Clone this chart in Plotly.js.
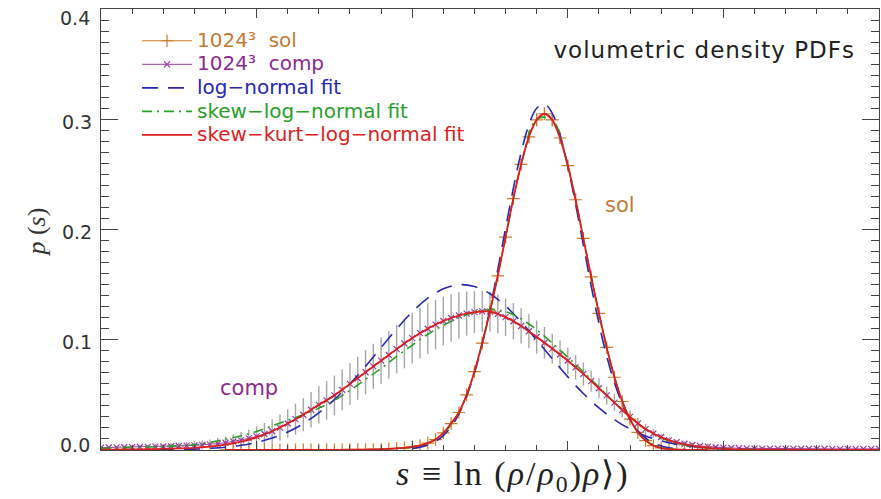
<!DOCTYPE html>
<html>
<head>
<meta charset="utf-8">
<script src="https://cdn.plot.ly/plotly-3.0.1.min.js"></script>
<style>
  html, body { margin: 0; padding: 0; background: #ffffff; }
  #chart { width: 881px; height: 499px; }
  /* legend rows are packed tightly while the labels keep a larger glyph size */
  .legendtext { font-size: 20px !important; }
  #chart g.legend g.scrollbox { clip-path: none !important; }
  /* wide lettering for the panel caption and the s-axis label */
  #chart g.annotation[data-index="2"] text { letter-spacing: 1px; }
  #chart g.annotation[data-index="5"] text { letter-spacing: 2px; }
</style>
</head>
<body>
<div id="chart"></div>
<script>
// Volumetric density PDFs p(s), s = ln(rho/rho0), for solenoidal and compressive forcing (1024^3).

// ---- measured PDFs (bins of 0.25 in s) ----
const solStart = -11, solStep = 0.25;
const solP = [
  0.0001, 0.0001, 0.0001, 0.0001, 0.0001, 0.0001, 0.0001, 0.0001, 0.0001, 0.0001,
  0.0002, 0.0002, 0.0002, 0.0002, 0.0002, 0.0002, 0.0003, 0.0003, 0.0004, 0.0005,
  0.0007, 0.001, 0.0014, 0.002, 0.0028, 0.004, 0.0062, 0.0095, 0.0155, 0.024,
  0.034, 0.050, 0.071, 0.097, 0.126, 0.158, 0.193, 0.228, 0.259, 0.284,
  0.2995, 0.305, 0.2995, 0.283, 0.258, 0.227, 0.192, 0.157, 0.124, 0.093,
  0.066, 0.044, 0.028, 0.016, 0.0085, 0.004, 0.0018, 0.0008, 0.0004, 0.0002,
  0.0001, 0.0001, 0.0001
];
const solErr = [
  0, 0, 0, 0, 0, 0, 0, 0, 0, 0,
  0, 0, 0, 0, 0, 0, 0, 0, 0, 0,
  0.0005, 0.0005, 0.001, 0.001, 0.001, 0.0015, 0.0015, 0.002, 0.002, 0.0025,
  0.003, 0.003, 0.0035, 0.004, 0.004, 0.0045, 0.005, 0.005, 0.005, 0.0055,
  0.006, 0.006, 0.006, 0.0055, 0.005, 0.005, 0.0045, 0.004, 0.004, 0.0035,
  0.003, 0.0025, 0.002, 0.0015, 0.001, 0.0005, 0, 0, 0, 0,
  0, 0, 0
];

const compStart = -15, compStep = 0.25;
const compP = [
  0.0022, 0.0023, 0.0024, 0.0025, 0.0026, 0.0027, 0.0029, 0.003,
  0.0032, 0.0034, 0.0036, 0.0039, 0.0042, 0.0046, 0.0051, 0.0058,
  0.0066, 0.0077, 0.009, 0.0105, 0.0123, 0.0145, 0.017, 0.0203,
  0.024, 0.028, 0.032, 0.0365, 0.041, 0.045, 0.0495, 0.0545,
  0.060, 0.065, 0.0705, 0.0758, 0.081, 0.0862, 0.0915, 0.0966,
  0.1015, 0.106, 0.110, 0.1137, 0.117, 0.1197, 0.122, 0.1237,
  0.125, 0.1258, 0.1255, 0.1235, 0.1205, 0.1168, 0.1125, 0.1077,
  0.1025, 0.0973, 0.092, 0.0866, 0.081, 0.075, 0.069, 0.0625,
  0.056, 0.0495, 0.043, 0.0363, 0.030, 0.024, 0.019, 0.015,
  0.0118, 0.009, 0.0072, 0.0057, 0.0045, 0.0036, 0.003, 0.0025,
  0.0021, 0.0018, 0.0016, 0.0015, 0.0014, 0.0013, 0.0013, 0.0012,
  0.0012, 0.0012, 0.0011, 0.0011, 0.0011, 0.0011, 0.001, 0.001,
  0.001, 0.001, 0.001, 0.001, 0.001
];
const compErr = [
  0.001, 0.001, 0.0012, 0.0013, 0.0015, 0.0017, 0.002, 0.0022,
  0.0025, 0.0028, 0.003, 0.0033, 0.0037, 0.004, 0.0045, 0.005,
  0.0057, 0.0065, 0.0073, 0.0082, 0.009, 0.01, 0.011, 0.012,
  0.013, 0.014, 0.015, 0.016, 0.017, 0.0175, 0.018, 0.0185,
  0.019, 0.0195, 0.02, 0.0205, 0.021, 0.0215, 0.022, 0.0225,
  0.023, 0.023, 0.023, 0.0225, 0.022, 0.0215, 0.021, 0.020,
  0.019, 0.0185, 0.018, 0.0175, 0.017, 0.0165, 0.016, 0.0155,
  0.015, 0.0143, 0.0135, 0.0128, 0.012, 0.0112, 0.0105, 0.0097,
  0.009, 0.0082, 0.0075, 0.0068, 0.006, 0.0052, 0.0045, 0.0038,
  0.003, 0.0026, 0.0022, 0.002, 0.0018, 0.0016, 0.0014, 0.0013,
  0.0012, 0.0011, 0.001, 0.001, 0.0009, 0.0009, 0.0008, 0.0008,
  0.0008, 0.0008, 0.0008, 0.0008, 0.0008, 0.0008, 0.0008, 0.0008,
  0.0008, 0.0008, 0.0008, 0.0008, 0.0008
];

// ---- fits ----
// log-normal, solenoidal (step 0.25 from s = -5)
const solLogNormalStart = -5, solLogNormalStep = 0.25;
const solLogNormal = [
  0.0013, 0.0025, 0.0045, 0.0078, 0.0131, 0.0211, 0.0328, 0.0488, 0.070, 0.0966,
  0.128, 0.1636, 0.201, 0.2373, 0.2697, 0.2949, 0.310, 0.3138, 0.3054, 0.2859,
  0.2575, 0.223, 0.186, 0.149, 0.115, 0.0853, 0.061, 0.0419, 0.0277, 0.0175,
  0.0107, 0.0063, 0.0036, 0.0019, 0.001, 0.0005, 0.0002
];
// log-normal, compressive (step 0.5 from s = -14)
const compLogNormalStart = -14, compLogNormalStep = 0.5;
const compLogNormal = [
  0.0001, 0.0001, 0.0002, 0.0004, 0.0008, 0.0015, 0.0025, 0.0043, 0.0069, 0.0108,
  0.0163, 0.0239, 0.0337, 0.0457, 0.060, 0.076, 0.093, 0.1098, 0.1252, 0.1377,
  0.1462, 0.1499, 0.1483, 0.1417, 0.1306, 0.1162, 0.0998, 0.0828, 0.0663, 0.0512,
  0.0382, 0.0275, 0.0191, 0.0128, 0.0083, 0.0052, 0.0031, 0.0018, 0.001, 0.0006,
  0.0003
];
// skew-log-normal, solenoidal (step 0.5 from s = -6)
const solSkewStart = -6, solSkewStep = 0.5;
const solSkew = [
  0.0005, 0.0012, 0.0027, 0.0063, 0.015, 0.034, 0.071, 0.126, 0.193, 0.259,
  0.300, 0.2995, 0.258, 0.192, 0.124, 0.066, 0.028, 0.009, 0.0022, 0.0005,
  0.0001
];
// skew-log-normal, compressive (step 0.5 from s = -15)
const compSkewStart = -15, compSkewStep = 0.5;
const compSkew = [
  0.0015, 0.002, 0.0023, 0.0027, 0.0032, 0.0038, 0.0048, 0.0068, 0.0098, 0.013,
  0.0168, 0.022, 0.027, 0.032, 0.038, 0.045, 0.054, 0.064, 0.074, 0.085,
  0.095, 0.105, 0.113, 0.120, 0.125, 0.1275, 0.1255, 0.119, 0.109, 0.097,
  0.084, 0.071, 0.057, 0.043, 0.030, 0.019, 0.011, 0.0062, 0.0033, 0.0017,
  0.0009, 0.0005, 0.0003, 0.0002, 0.0001, 0, 0, 0, 0, 0,
  0
];
// skew-kurt-log-normal, compressive (step 0.5 from s = -15); the solenoidal one follows solP
const compSkewKurtStart = -15, compSkewKurtStep = 0.5;
const compSkewKurt = [
  0.0003, 0.0004, 0.0005, 0.0007, 0.001, 0.0014, 0.002, 0.003, 0.0048, 0.0075,
  0.0115, 0.017, 0.024, 0.032, 0.041, 0.0495, 0.060, 0.0705, 0.081, 0.0915,
  0.1015, 0.110, 0.117, 0.122, 0.125, 0.1255, 0.1205, 0.1125, 0.1025, 0.092,
  0.081, 0.069, 0.056, 0.043, 0.030, 0.019, 0.0115, 0.0068, 0.0038, 0.002,
  0.0011, 0.0006, 0.0003, 0.0002, 0.0001, 0.0001, 0, 0, 0, 0,
  0
];
const solSkewKurt = solP;

// ---- axis ticks ----
const yTickVals = [0.1, 0.2, 0.3];
const yTickText = ['0.1', '0.2', '0.3'];

function grid(start, step, n) {
  const out = [];
  for (let i = 0; i < n; i++) out.push(+(start + i * step).toFixed(3));
  return out;
}

const C_SOL = '#d07a28', C_SOL_TXT = '#c47a35';
const C_COMP = '#9a3c9a', C_COMP_TXT = '#8e2a8e';
const C_LN = '#2828b0', C_SKEW = '#2aa02a', C_SK = '#dc1e1e';
const ERR = 'rgba(150,150,150,0.85)';

const traces = [
  {
    x: grid(compStart, compStep, compP.length), y: compP,
    error_y: { type: 'data', array: compErr, color: ERR, thickness: 1.4, width: 0 },
    mode: 'lines+markers', name: '<span style="color:' + C_COMP_TXT + '">1024³\u00a0\u00a0comp</span>',
    line: { color: C_COMP, width: 1 },
    marker: { symbol: 'x-thin', size: 6, line: { color: C_COMP, width: 1.2 } },
    legendrank: 2
  },
  {
    x: grid(solStart, solStep, solP.length), y: solP,
    error_y: { type: 'data', array: solErr, color: ERR, thickness: 1.4, width: 0 },
    mode: 'lines+markers', name: '<span style="color:' + C_SOL_TXT + '">1024³\u00a0\u00a0sol</span>',
    line: { color: C_SOL, width: 1 },
    marker: { symbol: 'cross-thin', size: 9, line: { color: C_SOL, width: 1.2 } },
    legendrank: 1
  },
  {
    x: grid(solLogNormalStart, solLogNormalStep, solLogNormal.length), y: solLogNormal,
    mode: 'lines', legendgroup: 'ln', showlegend: false, name: 'ln-sol',
    line: { color: C_LN, width: 1.6, dash: '16px,10px', shape: 'spline' }
  },
  {
    x: grid(compLogNormalStart, compLogNormalStep, compLogNormal.length), y: compLogNormal,
    mode: 'lines', legendgroup: 'ln', legendrank: 3,
    name: '<span style="color:' + C_LN + '">log−normal fit</span>',
    line: { color: C_LN, width: 1.6, dash: '16px,10px', shape: 'spline' }
  },
  {
    x: grid(solSkewStart, solSkewStep, solSkew.length), y: solSkew,
    mode: 'lines', legendgroup: 'skew', showlegend: false, name: 'skew-sol',
    line: { color: C_SKEW, width: 1.6, dash: '10px,5px,2px,5px', shape: 'spline' }
  },
  {
    x: grid(compSkewStart, compSkewStep, compSkew.length), y: compSkew,
    mode: 'lines', legendgroup: 'skew', legendrank: 4,
    name: '<span style="color:' + C_SKEW + '">skew−log−normal fit</span>',
    line: { color: C_SKEW, width: 1.6, dash: '10px,5px,2px,5px', shape: 'spline' }
  },
  {
    x: grid(solStart, solStep, solSkewKurt.length), y: solSkewKurt,
    mode: 'lines', legendgroup: 'sk', showlegend: false, name: 'sk-sol',
    line: { color: C_SK, width: 1.8, shape: 'spline' }
  },
  {
    x: grid(compSkewKurtStart, compSkewKurtStep, compSkewKurt.length), y: compSkewKurt,
    mode: 'lines', legendgroup: 'sk', legendrank: 5,
    name: '<span style="color:' + C_SK + '">skew−kurt−log−normal fit</span>',
    line: { color: C_SK, width: 1.8, shape: 'spline' }
  }
];

const AX = '#444444';
const layout = {
  width: 881, height: 499,
  margin: { l: 101, r: 2, t: 9, b: 49, pad: 0 },
  paper_bgcolor: '#ffffff', plot_bgcolor: '#ffffff',
  font: { family: 'DejaVu Sans', size: 19, color: '#333333' },
  showlegend: true,
  legend: {
    x: 0.0463, y: 0.966, xanchor: 'left', yanchor: 'top',
    bgcolor: 'rgba(0,0,0,0)', borderwidth: 0,
    itemwidth: 50, tracegroupgap: 0,
    font: { family: 'DejaVu Sans', size: 15.8 }
  },
  xaxis: {
    range: [-15, 10], showgrid: false, zeroline: false,
    showline: true, linecolor: AX, linewidth: 1, mirror: 'ticks',
    ticks: 'inside', tick0: -15, dtick: 5, ticklen: 9, tickcolor: AX, tickwidth: 1,
    minor: { ticks: 'inside', dtick: 1, ticklen: 5, tickcolor: AX, tickwidth: 1 },
    showticklabels: false
  },
  yaxis: {
    range: [0, 0.4], showgrid: false, zeroline: false,
    showline: true, linecolor: AX, linewidth: 1, mirror: 'ticks',
    ticks: 'inside', tickvals: yTickVals, ticktext: yTickText,
    ticklen: 17, tickcolor: AX, tickwidth: 1,
    minor: { ticks: 'inside', dtick: 0.01, ticklen: 8, tickcolor: AX, tickwidth: 1 },
    tickfont: { family: 'DejaVu Sans', size: 19, color: '#333333' },
    ticklabelstandoff: 4, ticklabelshift: 3
  },
  annotations: [
    { xref: 'paper', yref: 'paper', x: -0.0116, y: 0.0113, xanchor: 'right', yanchor: 'middle',
      text: '0.0', showarrow: false, font: { family: 'DejaVu Sans', size: 19, color: '#333333' } },
    { xref: 'paper', yref: 'paper', x: -0.0116, y: 0.98, xanchor: 'right', yanchor: 'middle',
      text: '0.4', showarrow: false, font: { family: 'DejaVu Sans', size: 19, color: '#333333' } },
    { xref: 'paper', yref: 'paper', x: 0.956, y: 0.908, xanchor: 'right', yanchor: 'middle',
      text: 'volumetric density PDFs', showarrow: false,
      font: { family: 'DejaVu Sans', size: 23, color: '#222222' } },
    { xref: 'x', yref: 'y', x: 1.69, y: 0.2225, xanchor: 'center', yanchor: 'middle',
      text: 'sol', showarrow: false, font: { family: 'DejaVu Sans', size: 21, color: C_SOL_TXT } },
    { xref: 'x', yref: 'y', x: -10.24, y: 0.0565, xanchor: 'center', yanchor: 'middle',
      text: 'comp', showarrow: false, font: { family: 'DejaVu Sans', size: 21, color: C_COMP_TXT } },
    { xref: 'paper', yref: 'paper', x: 0.530, y: -0.06, xanchor: 'center', yanchor: 'middle',
      text: '<i>s</i> ≡ ln (<i>ρ</i>/<i>ρ</i><sub>0</sub>)<i>ρ</i>⟩)', showarrow: false,
      font: { family: 'Liberation Serif', size: 34, color: '#222222' } },
    { xref: 'paper', yref: 'paper', x: -0.083, y: 0.494, xanchor: 'center', yanchor: 'middle',
      textangle: -90, text: '<i>p</i> (<i>s</i>)', showarrow: false,
      font: { family: 'Liberation Serif', size: 26, color: '#333333' } }
  ]
};

Plotly.newPlot('chart', traces, layout, { displayModeBar: false, staticPlot: true });
</script>
</body>
</html>
